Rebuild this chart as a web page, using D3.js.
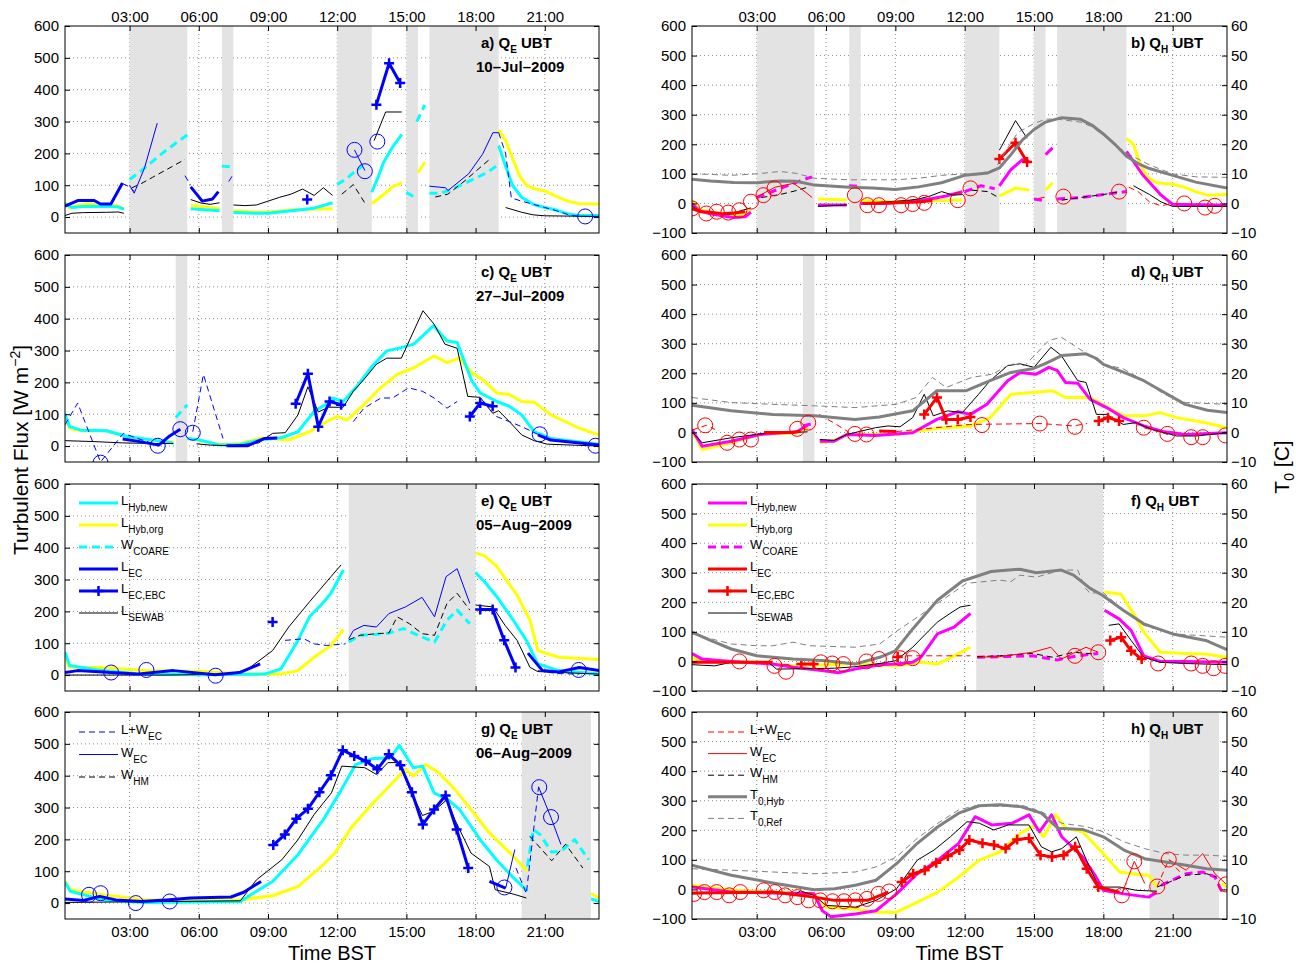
<!DOCTYPE html>
<html><head><meta charset="utf-8">
<script src="https://cdn.jsdelivr.net/npm/d3@7"></script>
<style>body{margin:0;background:#fff}text{font-family:"Liberation Sans",Arial,Helvetica,sans-serif}</style>
</head><body><svg id="c" width="1296" height="964"></svg>
<script>
// ---------------- DATA (time in hours BST, flux in W m-2, T0 in C) ----------------
const hourTicks = [3, 6, 9, 12, 15, 18, 21];
const fluxTicksL = [0, 100, 200, 300, 400, 500, 600];
const fluxTicksR = [-100, 0, 100, 200, 300, 400, 500, 600];
const tempTicks = [-10, 0, 10, 20, 30, 40, 50, 60];
const dates = ["10–Jul–2009", "27–Jul–2009", "05–Aug–2009", "06–Aug–2009"];

// Panel a : Q_E 10-Jul
const a_shade = [[3,5.5],[7,7.5],[12,13.5],[15,15.5],[16,19]];
const a_hybOrg = [[0.2,48],[0.4,28],[0.8,38],[1.2,42],[1.6,40],[2.0,38],[2.4,38],[2.75,25],null,[5.65,37],[6.9,26],null,[7.5,20],[8.5,16],[9.0,15],[10,22],[11,25],[11.8,26],null,[13.5,42],[14.0,70],[14.4,95],[14.8,108],null,[15.5,139],[15.8,173],null,[19.0,274],[19.3,240],[19.6,185],[19.9,130],[20.2,100],[20.5,90],[21.0,82],[21.5,65],[22.0,50],[22.5,42],[23.35,41]];
const a_hybNew = [[0.2,42],[0.5,30],[1.0,33],[2.0,34],[2.5,32],[2.75,24],null,[5.65,26],[6.9,20],null,[7.5,14],[8.5,12],[9.0,12],[10,20],[11,28],[11.8,45],null,[13.5,78],[13.8,130],[14.0,170],[14.4,220],[14.8,260],null,[19.0,225],[19.3,160],[19.6,100],[20.0,62],[20.5,40],[21.0,30],[21.5,22],[22.0,10],[22.5,5],[23.35,5]];
const a_coare = [[3.0,118],[3.5,145],[4.0,175],[4.5,205],[5.0,232],[5.5,258],null,[7.0,160],[7.4,158],null,[12.0,102],[12.4,120],[12.8,145],[13.1,160],null,[15.0,78],[15.4,60],null,[15.45,300],[15.8,352],null,[16.0,75],[16.5,75],[17.0,88],[17.5,105],[18.0,122],[18.5,140],[18.9,160]];
const a_sewab = [[0.2,5],[0.5,12],[1.0,14],[2.0,15],[2.5,16],[2.75,12],null,[5.65,55],[6.1,44],[6.5,40],[6.9,45],null,[7.5,38],[8.0,36],[8.5,38],[9.0,50],[9.5,62],[10.0,72],[10.5,88],[11.0,68],[11.4,92],[11.8,68],null,[13.6,240],[14.1,330],[14.8,330],null,[19.3,30],[20.0,15],[20.5,7],[21.0,4],[23.35,2]];
const a_whm = [[3.1,92],[3.5,105],[4.0,125],[4.5,145],[5.0,165],[5.4,181],null,[12.2,72],[12.7,102],[13.2,44],null,[16.25,63],[16.8,72],[17.5,112],[18.6,181]];
const a_lwec = [[2.7,105],[3.0,95],[3.2,80],null,[5.4,130],[5.65,100],null,[7.3,112],[7.5,135],null,[19.0,265],[19.3,200],[19.55,60],[20.0,50],[20.5,40],[21.0,30],[21.5,20],[22.0,8],[22.5,2],[23.35,2]];
const a_wec = [[3.0,100],[3.2,75],[3.65,155],[4.2,295],null,[12.75,211],[13.2,146],null,[16.0,97],[16.7,92],[16.8,83],[17.7,136],[18.3,197],[18.75,265],[19.0,265]];
const a_lec = [[0.2,34],[0.75,52],[1.47,52],[1.74,41],[2.19,41],[2.69,107],null,[5.65,95],[6.15,50],[6.6,57],[6.85,80]];
const a_ebc = [[10.7,55],null,[13.7,353],[14.25,483],[14.73,421]];
const a_circ = [[12.75,211],[13.2,144],[13.74,237],[22.75,2]];

// Panel b : Q_H 10-Jul
const b_shade = [[3,5.5],[7,7.5],[12,13.5],[15,15.5],[16,19]];
const b_t0hyb = [[0.2,8.2],[1.0,7.6],[2.0,7.1],[3.0,7.0],[4.0,7.6],[4.7,7.5],[5.5,6.2],[7.0,5.5],[8.0,5.2],[9.0,4.7],[10.0,5.6],[11.0,7.0],[12.0,9.5],[13.0,10.3],[13.5,12.0],[14.0,16.5],[14.5,21.5],[15.0,25.0],[15.5,27.5],[16.2,29.0],[17.0,28.5],[17.5,26.5],[18.0,23.5],[18.5,20.0],[19.0,16.0],[19.5,13.5],[20.0,11.8],[21.0,9.5],[22.0,7.2],[23.35,5.2]];
const b_t0ref = [[0.2,10.0],[1.0,9.8],[1.9,9.5],[3.0,10.0],[4.0,10.8],[4.7,10.2],[5.5,8.5],[7.0,8.0],[9.0,8.0],[10.0,8.5],[11.0,9.5],[12.0,10.0],[12.5,9.7],[13.3,11.5],[13.8,18.0],[14.3,24.0],[15.0,27.0],[15.5,28.5],[16.0,28.5],[17.0,27.5],[17.5,26.0],[18.0,23.0],[19.0,17.0],[20.0,13.0],[21.0,10.0],[22.0,9.0],[23.35,8.8]];
const b_hybNew = [[0.2,0],[0.5,-25],[1.0,-35],[1.5,-42],[2.0,-48],[2.5,-45],[2.75,-30],null,[5.65,-5],[6.9,-5],null,[7.5,0],[8.5,0],[9.5,5],[10.5,15],[11.2,25],[11.9,40],null,[13.5,59],[14.0,114],[14.5,148],[14.8,142],null,[15.5,165],[15.8,188],null,[19.0,176],[19.7,97],[20.5,28],[21.0,-3],[23.35,-6]];
const b_hybOrg = [[0.2,10],[0.5,-20],[1.0,-30],[1.5,-35],[2.0,-38],[2.5,-35],[2.75,-25],null,[5.65,15],[6.9,12],null,[7.5,10],[9.0,5],[10,8],[11,10],[11.9,12],null,[13.5,25],[14.2,52],[14.8,45],null,[15.5,45],[15.8,70],null,[19.0,220],[19.3,200],[19.6,130],[19.9,90],[20.3,70],[21.0,65],[21.5,55],[22.0,40],[22.5,28],[23.35,30]];
const b_coare = [[3.0,20],[3.5,35],[4.0,50],[4.5,65],[5.0,80],[5.4,90],null,[7.0,60],[7.4,58],null,[12.0,40],[12.7,60],[13.3,50],null,[15.0,15],[15.4,10],null,[16.0,15],[17.0,20],[18.0,30],[19.0,40]];
const b_sewab = [[0.2,-10],[0.6,-28],[1.2,-32],[1.8,-38],[2.3,-25],[2.75,-15],null,[5.65,-10],[6.9,-5],null,[7.7,0],[8.5,5],[9.5,10],[10.0,15],[10.5,25],[11.0,40],[11.5,28],[11.9,30],null,[13.5,180],[14.2,280],[14.7,220],null,[19.3,60],[20.0,30],[20.5,5],[21.0,-10],[23.35,-10]];
const b_whm = [[3.2,20],[4.0,30],[4.8,45],[5.2,55],null,[12.3,45],[13.0,40],[13.4,23],null,[16.2,11],[17.0,20],[18.0,30],[18.7,40]];
const b_lwec = [[15.2,17],[15.6,23],null,[19.1,55],[19.5,40],[20.0,5],[20.5,-8],[21.0,0]];
const b_wec = [[3.0,22],[3.8,55],[4.6,68],[5.0,45],[5.4,20]];
const b_lec = [[0.2,-18],[0.6,-28],[1.0,-30],[1.5,-35],[2.0,-32],[2.5,-28],null,[7.6,0],[9.0,2],[10.0,5],[10.6,10]];
const b_ebc = [[13.5,150],[14.2,205],[14.7,140]];
const b_circ = [[0.2,-17],[0.82,-34],[1.27,-28],[1.77,-31],[2.25,-23],[2.75,6],[3.29,28],[3.77,51],[7.25,28],[7.79,-6],[8.29,-6],[9.25,-6],[9.75,-2],[10.25,2],[11.7,11],[12.25,51],[16.27,23],[18.68,40],[21.5,0],[22.4,-14],[22.82,-8]];

// Panel c : Q_E 27-Jul
const c_shade = [[5,5.5]];
const c_hybNew = [[0.2,101],[0.4,61],[0.9,50],[2.0,48],[2.9,30],[4.5,14],[4.9,10],null,[5.5,24],[6.0,20],[6.9,3],[7.8,5],[8.7,20],[9.56,26],[10.3,45],[11.0,109],[11.54,132],[11.8,151],[12.26,140],[12.8,183],[13.52,251],[14.15,299],[14.78,309],[15.32,320],[16.18,378],[16.76,330],[17.2,325],[17.84,204],[18.2,167],[18.92,140],[19.46,125],[20.0,98],[20.54,45],[21.26,24],[23.35,6]];
const c_hybOrg = [[0.2,93],[0.4,56],[0.9,48],[2.0,48],[2.9,28],[4.5,14],[4.9,12],null,[5.5,25],[6.9,5],[7.8,8],[8.7,25],[9.9,19],[10.8,45],[11.54,77],[12.0,93],[12.44,82],[13.16,130],[13.88,183],[14.6,225],[15.32,246],[16.2,283],[16.76,262],[17.3,276],[17.84,230],[18.38,204],[18.92,167],[19.46,162],[20.0,140],[20.54,138],[21.26,98],[22.5,56],[23.35,35]];
const c_coare = [[5.0,90],[5.5,130]];
const c_sewab = [[0.2,17],[1.5,14],[2.7,10],[4.26,8],[4.9,8],null,[5.9,7],[6.5,3],[7.4,1],[8.6,10],[9.2,40],[9.75,42],[10.3,98],[10.73,186],[11.18,107],[11.63,122],[12.26,122],[12.7,172],[13.16,209],[13.7,257],[14.15,276],[14.78,276],[15.72,425],[16.2,383],[16.67,320],[17.2,307],[17.66,156],[18.2,153],[18.74,103],[19.0,111],[19.46,77],[20.0,35],[20.54,17],[21.1,6],[23.35,0]];
const c_lwec = [[0.2,67],[0.75,135],[1.74,-50],[2.73,40],[3.5,20],[4.26,3],null,[5.74,45],[6.2,225],[7.05,24],null,[12.7,77],[13.16,119],[13.9,151],[14.4,151],[15.1,183],[15.7,172],[16.2,151],[16.76,119],[17.2,140],null,[18.9,93],[19.46,77],[20.0,61],[20.7,37]];
const c_lec = [[2.7,22],[3.45,14],[4.26,3],[4.7,30],[5.2,53],null,[7.2,1],[8.1,1],[8.85,24],[9.4,25],null,[20.7,35],[21.26,19],[23.35,3]];
const c_ebc = [[10.2,133],[10.73,227],[11.18,61],[11.67,140],[12.17,130],null,[17.75,93],[18.2,135],[18.74,125]];
const c_circ = [[1.74,-52],[4.22,1],[5.2,53],[5.74,42],[20.78,37],[23.2,1]];

// Panel d : Q_H 27-Jul
const d_shade = [[5,5.5]];
const d_t0hyb = [[0.2,9.2],[1.9,7.3],[3.7,6.1],[5.5,5.6],[7.25,4.4],[8.3,5.2],[9.75,7.3],[10.8,14.1],[12.07,14.1],[13.1,17.5],[14.0,20.3],[14.93,21.5],[15.46,23.2],[16.2,26.0],[17.25,26.6],[17.7,25.0],[18.0,23.0],[18.5,21.5],[19.0,20.0],[19.75,17.5],[20.64,13.5],[21.54,9.5],[22.5,7.5],[23.35,6.7]];
const d_t0ref = [[0.2,11.8],[1.9,10.1],[3.7,9.5],[5.5,9.0],[7.25,8.4],[9.04,9.5],[9.9,11.8],[10.6,18.6],[11.2,15.2],[12.3,18.6],[13.2,19.7],[14.0,23.2],[14.6,22.6],[15.64,31.1],[16.18,32.2],[17.07,27.7],[17.96,23.2],[18.86,21.5],[19.75,17.5],[20.64,12.9],[21.54,10.1],[23.35,9.5]];
const d_hybNew = [[0.2,10],[0.64,-47],[1.9,-30],[3.14,-7],[4.75,2],[5.2,25],null,[5.73,-30],[6.35,-30],[6.9,-7],[8.14,-10],[9.75,-1],[10.8,44],[11.7,70],[12.25,61],[12.96,95],[13.86,175],[14.4,203],[15.1,197],[15.64,220],[16.0,210],[16.36,169],[16.9,166],[17.43,112],[18.14,84],[18.86,50],[19.75,22],[20.64,2],[21.54,-7],[23.35,-1]];
const d_hybOrg = [[0.2,5],[0.64,-58],[1.9,-35],[3.14,-7],[4.75,-1],[5.2,15],null,[5.73,-35],[6.35,-27],[6.9,-7],[9.04,-7],[10.8,14],[12.25,22],[13.1,50],[14.0,129],[14.93,135],[15.82,141],[16.36,118],[17.43,118],[17.96,95],[18.86,56],[19.75,56],[20.46,67],[21.18,50],[22.43,33],[23.35,16]];
const d_coare = [[5.0,22],[5.4,30]];
const d_sewab = [[0.2,2],[0.64,-35],[1.9,-18],[3.14,-5],[5.2,2],null,[5.73,-24],[6.35,-27],[6.9,-7],[8.14,16],[8.68,22],[9.2,19],[9.75,50],[10.25,129],[10.64,56],[11.26,73],[11.9,67],[12.6,129],[13.1,175],[13.86,226],[14.4,232],[15.0,220],[15.73,288],[16.18,260],[16.89,175],[17.25,169],[17.7,61],[18.14,61],[18.86,27],[19.4,33],[20.1,10],[21.18,-12],[22.0,-12],[23.35,-1]];
const d_lwec = [[0.2,8],[0.82,24],[1.2,10],null,[5.7,61],[6.45,27],[7.0,0],null,[9.04,3],[12.21,27],[15.3,30],[16.7,22],[17.3,30],null,[19.75,16],[20.8,-7]];
const d_lec = [[3.32,0],[4.57,0],[4.9,5],null,[8.3,5],[9.04,3]];
const d_ebc = [[10.25,61],[10.8,118],[11.2,44],[11.7,44],[12.25,52],null,[17.8,39],[18.2,50],[18.68,39]];
const d_circ = [[0.77,24],[1.72,-35],[2.25,-24],[2.75,-24],[4.75,12],[5.23,33],[7.25,-5],[7.75,-7],[12.75,25],[15.25,30],[16.77,19],[19.75,16],[20.77,-5],[21.8,-16],[22.3,-16],[23.28,-10]];

// Panel e : Q_E 05-Aug
const e_shade = [[12.5,18]];
const e_hybNew = [[0.2,72],[0.4,30],[1.83,14],[3.6,3],[6.0,1],[8.85,3],[9.56,19],[10.3,109],[10.8,183],[11.36,225],[11.73,257],[12.27,330],null,[18.0,322],[18.38,294],[18.92,246],[19.64,172],[20.2,109],[20.7,35],[21.6,14],[23.35,3]];
const e_hybOrg = [[0.2,56],[0.4,24],[1.83,24],[3.6,14],[6.0,12],[8.1,3],[9.56,3],[10.3,14],[11.0,56],[11.73,93],[12.27,143],null,[18.0,383],[18.38,375],[18.92,341],[19.8,251],[20.36,172],[20.7,77],[21.6,56],[23.35,49]];
const e_coare = [[12.5,104],[13.0,125],[13.7,128],[14.24,132],[14.87,146],[15.5,125],[16.22,104],[16.76,172],[17.2,204],[17.75,161]];
const e_sewab = [[0.2,0],[4.5,0],[7.4,3],[8.13,19],[9.2,77],[9.9,151],[10.8,230],[11.73,309],[12.17,346],null,[18.0,220],[18.74,214],[19.28,156],[19.8,109],[20.36,24],[20.7,11],[23.35,3]];
const e_whm = [[12.5,111],[13.0,125],[13.7,130],[14.24,132],[14.6,183],[15.14,161],[15.68,130],[16.22,125],[16.76,225],[17.2,257],[17.75,204]];
const e_lwec = [[9.74,109],[10.55,114],[11.0,98],[11.54,93],[12.35,98],null,[20.7,14],[21.5,5],[22.5,3]];
const e_wec = [[12.5,114],[12.7,140],[13.16,156],[13.7,151],[14.24,193],[14.96,214],[15.68,244],[16.22,183],[16.72,309],[17.2,334],[17.75,225]];
const e_lec = [[0.2,8],[0.75,14],[2.2,8],[3.3,3],[4.9,14],[6.7,1],[7.77,8],[8.66,35],null,[20.27,69],[20.9,14],[21.6,10],[22.5,24],[23.35,14]];
const e_ebc = [[9.2,167],null,[18.2,206],[18.74,206],[19.24,109],[19.73,24]];
const e_circ = [[2.2,8],[3.73,16],[6.73,-2],[22.47,16]];

// Panel f : Q_H 05-Aug
const f_shade = [[12.5,18]];
const f_t0hyb = [[0.2,9.9],[1.0,7.1],[1.9,4.2],[3.0,1.9],[4.57,0.8],[6.0,0.2],[7.25,-0.9],[8.32,1.4],[9.0,3.6],[9.75,11.0],[10.82,20.7],[11.9,27.2],[13.14,30.4],[14.39,31.2],[15.1,30.0],[16.18,30.9],[16.71,29.2],[17.43,24.7],[17.96,22.4],[18.86,17.3],[19.75,12.7],[21.0,9.3],[22.43,7.1],[23.35,4.0]];
const f_t0ref = [[0.2,9.3],[1.9,5.9],[3.0,5.3],[3.68,5.3],[4.57,6.5],[5.3,5.3],[7.25,4.8],[8.32,5.9],[9.0,9.9],[9.75,13.9],[10.82,19.6],[12.07,26.4],[13.5,27.5],[14.0,27.0],[14.39,29.2],[15.1,28.5],[16.18,30.9],[16.89,30.9],[17.2,25.0],[17.43,23.0],[17.96,23.5],[18.86,17.3],[19.75,12.2],[21.0,9.3],[23.35,8.2]];
const f_hybNew = [[0.2,27],[0.64,8],[1.9,0],[3.68,-9],[4.57,-20],[6.0,-32],[6.53,-38],[7.25,-26],[8.32,-11],[9.0,-9],[9.75,-3],[10.1,14],[10.82,93],[11.54,116],[12.25,162],null,[18.05,173],[18.68,144],[19.2,105],[19.75,19],[20.46,0],[21.54,0],[23.35,-3]];
const f_hybOrg = [[0.2,14],[0.64,0],[3.0,-3],[4.57,-15],[6.0,-11],[7.25,-7],[9.0,-15],[10.1,-3],[10.82,-9],[11.54,19],[12.25,48],null,[18.05,235],[18.77,227],[19.4,150],[19.75,99],[20.46,31],[21.54,27],[22.4,25],[23.35,14]];
const f_coare = [[12.54,14],[14.93,19],[16.0,5],[16.89,19],[17.78,27]];
const f_sewab = [[0.2,-11],[1.18,-15],[1.9,-3],[3.5,-3],[3.86,-26],[6.36,-23],[7.25,-18],[8.32,-7],[9.0,2],[9.75,48],[10.46,105],[10.82,133],[11.36,162],[11.8,184],[12.25,190],null,[18.23,122],[18.68,127],[19.2,71],[19.75,14],[20.46,-3],[21.54,-7],[23.35,-11]];
const f_whm = [[12.54,16],[13.5,19],[14.93,27],[15.82,14],[16.71,31],[17.6,25]];
const f_lwec = [[9.04,19],[10.82,19],[12.25,19]];
const f_wec = [[12.54,14],[13.5,16],[14.93,31],[15.73,48],[16.18,8],[17.25,48],[17.78,31]];
const f_lec = [[0.2,-3],[3.68,-3]];
const f_ebc = [[4.93,-9],[5.46,-9],null,[9.1,15],null,[18.3,71],[18.77,82],[19.2,36],[19.66,8]];
const f_circ = [[2.25,0],[3.77,-15],[4.27,-35],[5.77,-3],[6.27,-7],[6.75,-9],[7.75,0],[8.29,8],[9.21,11],[9.75,11],[16.77,19],[17.78,31],[20.37,-7],[21.8,-7],[22.3,-15],[22.77,-23],[23.27,-15]];

// Panel g : Q_E 06-Aug
const g_shade = [[20,23]];
const g_hybNew = [[0.2,65],[0.43,37],[1.87,10],[3.7,2],[7.8,5],[8.5,37],[9.2,68],[10.3,152],[11.4,262],[12.1,346],[12.8,435],[13.5,453],[14.3,456],[14.7,495],[15.3,425],[15.7,430],[16.2,346],[16.8,325],[17.3,294],[18.2,199],[18.9,136],[19.65,79],[20.25,37],null,[23.0,13],[23.35,5]];
const g_hybOrg = [[0.2,68],[0.43,42],[1.87,26],[3.7,10],[7.8,10],[9.2,23],[10.3,52],[11.4,121],[11.9,157],[12.6,236],[13.5,310],[14.4,378],[14.95,420],[15.3,399],[15.85,435],[16.4,409],[17.1,357],[17.8,294],[18.6,220],[19.5,157],[20.25,100],null,[23.0,31],[23.35,16]];
const g_coare = [[20.25,115],[20.5,231],[20.8,215],[21.3,160],[21.7,163],[22.3,199],[22.9,136]];
const g_sewab = [[0.2,2],[7.8,7],[8.5,73],[9.6,136],[10.3,199],[11.0,278],[11.75,346],[12.2,430],[13.2,425],[13.7,404],[14.2,441],[14.7,441],[15.15,357],[15.7,275],[16.2,289],[16.76,325],[17.1,262],[17.8,157],[18.6,115],[18.85,42],[19.65,28],[20.2,16]];
const g_whm = [[20.35,210],[21.3,133],[21.9,185],[22.65,110]];
const g_lwec = [[19.75,110],[20.2,30],[20.73,365]];
const g_wec = [[19.3,46],[19.7,168],null,[20.73,365],[21.26,270],[21.7,184]];
const g_lec = [[0.2,13],[1.0,8],[1.7,21],[2.4,10],[3.5,5],[4.6,10],[5.64,16],[7.4,19],[7.95,34],[8.7,68],null,[18.6,68],[19.3,47]];
const g_ebc = [[9.23,182],[9.73,215],[10.23,265],[10.73,296],[11.23,348],[11.73,401],[12.24,480],[12.74,462],[13.24,446],[13.74,420],[14.24,467],[14.74,433],[15.24,348],[15.71,247],[16.2,294],[16.7,338],[17.18,231],[17.68,110]];
const g_circ = [[1.24,26],[1.74,31],[3.27,0],[4.74,5],[19.25,49],[20.76,364],[21.27,270]];

// Panel h : Q_H 06-Aug
const h_shade = [[20,23]];
const h_t0hyb = [[0.2,8.2],[1.9,4.8],[3.69,2.2],[5.48,-0.1],[6.37,0.2],[7.27,1.4],[8.16,3.1],[9.05,8.7],[9.95,15.6],[10.84,21.2],[11.74,25.8],[12.63,28.3],[13.53,28.6],[14.42,28.0],[15.32,25.8],[16.03,20.7],[17.1,20.3],[18.0,17.8],[18.89,13.3],[19.79,10.4],[20.68,9.3],[21.58,8.2],[22.47,7.0],[23.35,6.5]];
const h_t0ref = [[0.2,7.0],[1.9,6.5],[3.69,5.9],[5.48,5.3],[7.27,5.9],[8.16,7.6],[9.05,11.0],[9.95,17.3],[10.84,22.4],[11.74,26.9],[12.63,28.6],[13.53,28.0],[14.42,28.6],[15.32,26.3],[16.2,22.4],[17.27,21.2],[18.0,19.5],[18.89,16.1],[19.79,13.8],[20.68,12.1],[21.58,11.6],[22.47,11.6],[23.35,11.2]];
const h_hybNew = [[0.2,8],[1.9,-9],[3.69,-12],[5.48,-15],[5.84,-72],[6.2,-92],[7.27,-83],[8.16,-72],[9.05,-15],[9.95,53],[10.84,99],[11.74,156],[12.45,246],[13.17,218],[14.06,224],[14.78,252],[15.23,195],[15.76,252],[16.2,178],[17.1,110],[17.64,48],[18.0,-3],[18.89,-15],[19.96,-26],[20.3,-10]];
const h_hybOrg = [[0.2,14],[1.9,-3],[3.69,-9],[5.48,-15],[6.0,-60],[7.27,-66],[8.16,-77],[9.05,-77],[9.95,-43],[10.84,-9],[11.74,42],[12.63,99],[13.53,127],[14.42,190],[15.05,218],[15.41,178],[15.94,252],[16.38,207],[17.1,195],[18.0,121],[18.71,59],[19.43,51],[19.96,48],[20.32,8],null,[23.1,20],[23.35,8]];
const h_coare = [[20.5,14],[21.58,53],[22.3,59],[22.83,42],[23.1,-3],[23.35,-3]];
const h_sewab = [[0.2,-15],[1.9,-12],[3.69,-6],[4.58,-20],[4.9,-5],[5.48,-20],[6.0,-54],[7.27,-60],[8.16,-37],[9.05,2],[9.95,99],[10.67,133],[11.38,178],[12.1,229],[12.63,224],[13.26,201],[13.88,218],[14.78,218],[15.32,144],[15.76,127],[16.2,138],[16.83,178],[17.27,99],[17.8,8],[18.71,8],[19.43,-3],[20.32,-6]];
const h_whm = [[20.32,8],[20.86,25],[21.58,48],[22.47,53],[22.9,42]];
const h_lwec = [[18.8,-15],[19.0,20],null,[20.33,10],[20.83,101],[21.3,60]];
const h_wec = [[18.8,-15],[19.34,95],[19.79,20],null,[20.83,101],[21.58,65],[22.3,121],[22.83,53],[23.3,19]];
const h_lec = [[0.2,-12],[3.69,-9],[5.48,-26],[6.37,-37],[7.8,-37],[8.7,-9],null,[17.78,8],[18.7,-9]];
const h_ebc = [[9.27,25],[9.77,53],[10.27,65],[10.77,90],[11.27,113],[11.77,133],[12.2,167],[12.77,156],[13.27,150],[13.77,138],[14.27,169],[14.78,173],[15.28,116],[15.78,110],[16.28,116],[16.78,144],[17.28,70],[17.78,8]];
const h_circ = [[0.29,-15],[0.74,-9],[1.27,-9],[1.81,-20],[2.29,-9],[3.3,-3],[3.78,-9],[4.23,-20],[4.76,-26],[5.25,-37],[5.75,-37],[6.28,-40],[6.78,-40],[7.27,-37],[7.77,-32],[8.27,-15],[8.73,-7],[18.8,-20],[19.34,95],[20.33,10],[20.83,101],[23.3,17]];

// ---------------- DRAWING ----------------
const svg = d3.select('#c');
const C = {cyan:'#00ffff', yellow:'#ffff00', blue:'#0000ff', magenta:'#ff00ff', red:'#ff0000', black:'#000000', gray:'#808080'};
const H = 207;
const TOPS = [26, 255, 484, 712];
const XL = [65, 599], XR = [692, 1227];
const X_DOMAIN = [0.2, 23.35];
const fmtHour = h => (h < 10 ? '0' : '') + h + ':00';
const FS = 15;

function seriesSet(right, s) {
  const main = right ? C.magenta : C.cyan;
  const ec = right ? C.red : C.blue;
  const list = [];
  list.push({d: s.hybOrg, c: C.yellow, w: 3});
  list.push({d: s.hybNew, c: main, w: 3});
  list.push({d: s.coare, c: main, w: 3, dash: '8,5'});
  list.push({d: s.sewab, c: C.black, w: 1});
  list.push({d: s.whm, c: C.black, w: 1, dash: '6,4'});
  list.push({d: s.lwec, c: ec, w: 1, dash: '6,4'});
  list.push({d: s.wec, c: ec, w: 1});
  list.push({d: s.lec, c: ec, w: 3});
  list.push({d: s.ebc, c: ec, w: 3, plus: true});
  if (right) {
    list.push({d: s.t0ref, c: C.gray, w: 1, dash: '6,4', T: true});
    list.push({d: s.t0hyb, c: C.gray, w: 3, T: true});
  }
  return list.filter(o => o.d && o.d.length);
}

let clipN = 0;
function drawPanel(p) {
  const x = d3.scaleLinear().domain(X_DOMAIN).range(p.xr);
  const yDom = p.right ? [-100, 600] : [-50, 600];
  const y = d3.scaleLinear().domain(yDom).range([p.top + H, p.top]);
  const yT = d3.scaleLinear().domain([-10, 60]).range([p.top + H, p.top]);
  const g = svg.append('g');
  const cid = 'clip' + (clipN++);
  svg.append('clipPath').attr('id', cid).append('rect')
    .attr('x', p.xr[0]).attr('y', p.top).attr('width', p.xr[1] - p.xr[0]).attr('height', H);

  // grid
  const grid = g.append('g').attr('stroke', '#8c8c8c').attr('stroke-width', 1).attr('stroke-dasharray', '1,3');
  hourTicks.forEach(h => grid.append('line').attr('x1', x(h)).attr('x2', x(h)).attr('y1', p.top).attr('y2', p.top + H));
  const yTicks = p.right ? fluxTicksR : fluxTicksL;
  yTicks.filter(v => v > yDom[0] && v < yDom[1]).forEach(v =>
    grid.append('line').attr('x1', p.xr[0]).attr('x2', p.xr[1]).attr('y1', y(v)).attr('y2', y(v)));

  // shaded periods
  p.shade.forEach(([a, b]) => g.append('rect').attr('x', x(a)).attr('width', x(b) - x(a))
    .attr('y', p.top).attr('height', H).attr('fill', '#e3e3e3'));

  const dg = g.append('g').attr('clip-path', `url(#${cid})`);
  const list = seriesSet(p.right, p.s);
  list.forEach(s => {
    const ys = s.T ? yT : y;
    const line = d3.line().defined(d => d != null).x(d => x(d[0])).y(d => ys(d[1]));
    dg.append('path').datum(s.d).attr('d', line).attr('fill', 'none')
      .attr('stroke', s.c).attr('stroke-width', s.w).attr('stroke-linejoin', 'round')
      .attr('stroke-dasharray', s.dash || null);
    if (s.plus) {
      dg.selectAll(null).data(s.d.filter(d => d != null)).enter().append('path')
        .attr('transform', d => `translate(${x(d[0])},${ys(d[1])})`)
        .attr('d', 'M-5,0H5M0,-5V5').attr('stroke', s.c).attr('stroke-width', 2.5).attr('fill', 'none');
    }
  });
  // circles
  dg.selectAll(null).data(p.s.circ).enter().append('circle')
    .attr('cx', d => x(d[0])).attr('cy', d => y(d[1])).attr('r', 7.5)
    .attr('fill', 'none').attr('stroke', p.right ? C.red : C.blue).attr('stroke-width', 1);

  // frame
  g.append('rect').attr('x', p.xr[0]).attr('y', p.top).attr('width', p.xr[1] - p.xr[0]).attr('height', H)
    .attr('fill', 'none').attr('stroke', '#000').attr('stroke-width', 1);

  // axes
  const axL = d3.axisLeft(y).tickValues(yTicks).tickSizeInner(-5).tickSizeOuter(0).tickPadding(6);
  const gl = g.append('g').attr('transform', `translate(${p.xr[0]},0)`).call(axL);
  const axR = p.right ? d3.axisRight(yT).tickValues(tempTicks) : d3.axisRight(y).tickValues(yTicks).tickFormat('');
  const gr = g.append('g').attr('transform', `translate(${p.xr[1]},0)`).call(axR.tickSizeInner(-5).tickSizeOuter(0).tickPadding(4));
  const axB = d3.axisBottom(x).tickValues(hourTicks).tickSizeInner(-5).tickSizeOuter(0).tickPadding(7)
    .tickFormat(p.bottomLabels ? fmtHour : '');
  const gb = g.append('g').attr('transform', `translate(0,${p.top + H})`).call(axB);
  const axT = d3.axisTop(x).tickValues(hourTicks).tickSizeInner(-5).tickSizeOuter(0).tickPadding(4)
    .tickFormat(p.topLabels ? fmtHour : '');
  const gt = g.append('g').attr('transform', `translate(0,${p.top})`).call(axT);
  [gl, gr, gb, gt].forEach(a => {
    a.select('.domain').remove();
    a.selectAll('text').attr('font-size', FS).attr('font-family', '"Liberation Sans",Arial,sans-serif').attr('fill', '#000');
    a.selectAll('line').attr('stroke', '#000');
  });

  // title
  const tx = p.right ? 1131 : 481;
  const t = g.append('text').attr('x', tx).attr('y', p.top + 22).attr('font-weight', 'bold').attr('font-size', 15);
  t.append('tspan').text(p.letter + ') Q');
  t.append('tspan').attr('font-size', 10).attr('dy', 5).text(p.right ? 'H' : 'E');
  t.append('tspan').attr('dy', -5).text(' UBT');
  if (p.date) g.append('text').attr('x', 476).attr('y', p.top + 46).attr('font-weight', 'bold').attr('font-size', 15).text(p.date);
}

function legend(x0, y0, dy, items) {
  const g = svg.append('g');
  items.forEach((it, i) => {
    const yy = y0 + i * dy;
    g.append('line').attr('x1', x0).attr('x2', x0 + 39).attr('y1', yy).attr('y2', yy)
      .attr('stroke', it.c).attr('stroke-width', it.w).attr('stroke-dasharray', it.dash || null);
    if (it.plus) g.append('path').attr('transform', `translate(${x0 + 19.5},${yy})`).attr('d', 'M-5,0H5M0,-5V5')
      .attr('stroke', it.c).attr('stroke-width', 2.5);
    const t = g.append('text').attr('x', x0 + 42).attr('y', yy + 2).attr('font-size', 13);
    t.append('tspan').text(it.main);
    t.append('tspan').attr('font-size', 10).attr('dy', 6).text(it.sub);
  });
}

const panels = [
  {letter:'a', right:false, top:TOPS[0], xr:XL, shade:a_shade, date:dates[0], topLabels:true,
   s:{hybOrg:a_hybOrg, hybNew:a_hybNew, coare:a_coare, sewab:a_sewab, whm:a_whm, lwec:a_lwec, wec:a_wec, lec:a_lec, ebc:a_ebc, circ:a_circ}},
  {letter:'b', right:true, top:TOPS[0], xr:XR, shade:b_shade, topLabels:true,
   s:{hybOrg:b_hybOrg, hybNew:b_hybNew, coare:b_coare, sewab:b_sewab, whm:b_whm, lwec:b_lwec, wec:b_wec, lec:b_lec, ebc:b_ebc, circ:b_circ, t0hyb:b_t0hyb, t0ref:b_t0ref}},
  {letter:'c', right:false, top:TOPS[1], xr:XL, shade:c_shade, date:dates[1],
   s:{hybOrg:c_hybOrg, hybNew:c_hybNew, coare:c_coare, sewab:c_sewab, lwec:c_lwec, lec:c_lec, ebc:c_ebc, circ:c_circ}},
  {letter:'d', right:true, top:TOPS[1], xr:XR, shade:d_shade,
   s:{hybOrg:d_hybOrg, hybNew:d_hybNew, coare:d_coare, sewab:d_sewab, lwec:d_lwec, lec:d_lec, ebc:d_ebc, circ:d_circ, t0hyb:d_t0hyb, t0ref:d_t0ref}},
  {letter:'e', right:false, top:TOPS[2], xr:XL, shade:e_shade, date:dates[2],
   s:{hybOrg:e_hybOrg, hybNew:e_hybNew, coare:e_coare, sewab:e_sewab, whm:e_whm, lwec:e_lwec, wec:e_wec, lec:e_lec, ebc:e_ebc, circ:e_circ}},
  {letter:'f', right:true, top:TOPS[2], xr:XR, shade:f_shade,
   s:{hybOrg:f_hybOrg, hybNew:f_hybNew, coare:f_coare, sewab:f_sewab, whm:f_whm, lwec:f_lwec, wec:f_wec, lec:f_lec, ebc:f_ebc, circ:f_circ, t0hyb:f_t0hyb, t0ref:f_t0ref}},
  {letter:'g', right:false, top:TOPS[3], xr:XL, shade:g_shade, date:dates[3], bottomLabels:true,
   s:{hybOrg:g_hybOrg, hybNew:g_hybNew, coare:g_coare, sewab:g_sewab, whm:g_whm, lwec:g_lwec, wec:g_wec, lec:g_lec, ebc:g_ebc, circ:g_circ}},
  {letter:'h', right:true, top:TOPS[3], xr:XR, shade:h_shade, bottomLabels:true,
   s:{hybOrg:h_hybOrg, hybNew:h_hybNew, coare:h_coare, sewab:h_sewab, whm:h_whm, lwec:h_lwec, wec:h_wec, lec:h_lec, ebc:h_ebc, circ:h_circ, t0hyb:h_t0hyb, t0ref:h_t0ref}}
];
panels.forEach(drawPanel);

// legends
legend(79, 503, 22, [
  {c:C.cyan, w:3, main:'L', sub:'Hyb,new'},
  {c:C.yellow, w:3, main:'L', sub:'Hyb,org'},
  {c:C.cyan, w:3, dash:'8,5', main:'W', sub:'COARE'},
  {c:C.blue, w:3, main:'L', sub:'EC'},
  {c:C.blue, w:3, plus:true, main:'L', sub:'EC,EBC'},
  {c:C.black, w:1, main:'L', sub:'SEWAB'}]);
legend(708, 503, 22, [
  {c:C.magenta, w:3, main:'L', sub:'Hyb,new'},
  {c:C.yellow, w:3, main:'L', sub:'Hyb,org'},
  {c:C.magenta, w:3, dash:'8,5', main:'W', sub:'COARE'},
  {c:C.red, w:3, main:'L', sub:'EC'},
  {c:C.red, w:3, plus:true, main:'L', sub:'EC,EBC'},
  {c:C.black, w:1, main:'L', sub:'SEWAB'}]);
legend(79, 732, 22.5, [
  {c:C.blue, w:1, dash:'6,4', main:'L+W', sub:'EC'},
  {c:C.blue, w:1, main:'W', sub:'EC'},
  {c:C.black, w:1, dash:'6,4', main:'W', sub:'HM'}]);
legend(708, 732, 21.6, [
  {c:C.red, w:1, dash:'6,4', main:'L+W', sub:'EC'},
  {c:C.red, w:1, main:'W', sub:'EC'},
  {c:C.black, w:1, dash:'6,4', main:'W', sub:'HM'},
  {c:C.gray, w:3, main:'T', sub:'0,Hyb'},
  {c:C.gray, w:1, dash:'6,4', main:'T', sub:'0,Ref'}]);

// axis titles
const yl = svg.append('text').attr('transform', 'translate(28,450) rotate(-90)').attr('text-anchor', 'middle').attr('font-size', 21);
yl.append('tspan').text('Turbulent Flux [W m');
yl.append('tspan').attr('font-size', 14).attr('dy', -8).text('−2');
yl.append('tspan').attr('dy', 8).text(']');
const yr = svg.append('text').attr('transform', 'translate(1289,467) rotate(-90)').attr('text-anchor', 'middle').attr('font-size', 21);
yr.append('tspan').text('T');
yr.append('tspan').attr('font-size', 14).attr('dy', 5).text('0');
yr.append('tspan').attr('dy', -5).text(' [C]');
svg.append('text').attr('x', (XL[0] + XL[1]) / 2).attr('y', 960).attr('text-anchor', 'middle').attr('font-size', 20).text('Time BST');
svg.append('text').attr('x', (XR[0] + XR[1]) / 2).attr('y', 960).attr('text-anchor', 'middle').attr('font-size', 20).text('Time BST');
</script></body></html>
